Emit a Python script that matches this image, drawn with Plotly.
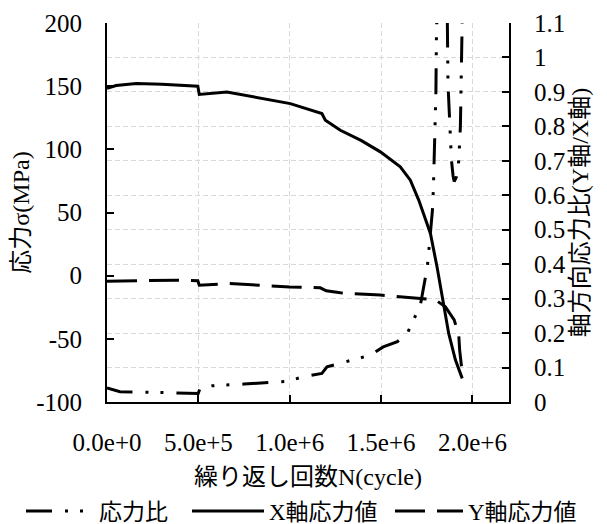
import plotly.graph_objects as go

# ---- data ----
cycles_x = [0, 0.05e6, 0.16e6, 0.30e6, 0.497e6, 0.505e6, 0.656e6, 0.838e6, 1.003e6,
            1.176e6, 1.195e6, 1.222e6, 1.277e6, 1.39e6, 1.496e6, 1.605e6, 1.66e6,
            1.706e6, 1.77e6, 1.806e6, 1.837e6, 1.870e6, 1.907e6, 1.944e6]
stress_x = [148.3, 150.5, 152.1, 151.5, 149.9, 143.4, 145.4, 140.7, 136.2,
            128.3, 123.0, 120.4, 115.1, 107.1, 98.0, 86.1, 75.6,
            59.8, 33.4, 7.0, -19.3, -45.7, -66.8, -81.3]

cycles_y = [0, 0.2e6, 0.38e6, 0.497e6, 0.505e6, 0.67e6, 1.0e6, 1.167e6, 1.20e6,
            1.277e6, 1.496e6, 1.715e6, 1.797e6, 1.852e6, 1.90e6, 1.925e6, 1.93e6, 1.944e6]
stress_y = [-4.4, -3.8, -3.6, -4.0, -7.5, -6.2, -8.9, -9.6, -12.0,
            -13.6, -15.4, -18.0, -19.1, -24.7, -35.0, -47.0, -58.9, -77.0]

cycles_r = [0, 0.071e6, 0.25e6, 0.40e6, 0.499e6, 0.51e6, 0.574e6, 0.75e6, 0.902e6,
            0.985e6, 1.074e6, 1.176e6, 1.204e6, 1.277e6, 1.441e6, 1.512e6, 1.589e6,
            1.644e6, 1.677e6, 1.715e6, 1.732e6, 1.753e6, 1.764e6, 1.781e6, 1.786e6,
            1.792e6, 1.797e6, 1.800e6, 1.803e6, 1.806e6, 1.83e6, 1.855e6, 1.861e6,
            1.866e6, 1.870e6, 1.879e6, 1.885e6, 1.894e6, 1.90e6, 1.912e6, 1.925e6,
            1.934e6, 1.939e6, 1.944e6, 1.95e6]
ratio = [0.041, 0.030, 0.028, 0.026, 0.025, 0.041, 0.047, 0.052, 0.056,
         0.060, 0.073, 0.083, 0.102, 0.112, 0.136, 0.160, 0.175,
         0.200, 0.238, 0.281, 0.331, 0.392, 0.455, 0.557, 0.615,
         0.722, 0.809, 0.90, 1.073, 1.2, 1.5, 1.5, 1.098,
         0.925, 0.878, 0.745, 0.702, 0.656, 0.64, 0.653, 0.70,
         0.80, 0.95, 1.1, 1.3]

x_tickvals = [0, 5e5, 1e6, 1.5e6, 2e6]
x_ticktext = ["0.0e+0", "5.0e+5", "1.0e+6", "1.5e+6", "2.0e+6"]
y_tickvals = [-100, -50, 0, 50, 100, 150, 200]
y_ticktext = ["-100", "-50", "0", "50", "100", "150", "200"]
r_tickvals = [0, 0.1, 0.2, 0.3, 0.4, 0.5, 0.6, 0.7, 0.8, 0.9, 1.0, 1.1]
r_ticktext = ["0", "0.1", "0.2", "0.3", "0.4", "0.5", "0.6", "0.7", "0.8", "0.9", "1", "1.1"]

names = ["応力比", "X軸応力値", "Y軸応力値"]

FONT = "Liberation Serif, Times New Roman, Noto Sans CJK JP, serif"
GRID = "#d9d9d9"

fig = go.Figure()
fig.add_trace(go.Scatter(x=cycles_r, y=ratio, name=names[0], mode="lines", yaxis="y2",
                         legend="legend",
                         line=dict(color="black", width=3, dash="26px,13px,3px,12px,3px,13px")))
fig.add_trace(go.Scatter(x=cycles_x, y=stress_x, name=names[1], mode="lines",
                         legend="legend2",
                         line=dict(color="black", width=3)))
fig.add_trace(go.Scatter(x=cycles_y, y=stress_y, name=names[2], mode="lines",
                         legend="legend3",
                         line=dict(color="black", width=3, dash="30px,12px")))

axis_common = dict(ticks="inside", ticklen=7, tickwidth=2, tickcolor="black",
                   showline=True, linecolor="black", linewidth=2, zeroline=False,
                   automargin=False,
                   tickfont=dict(family=FONT, size=25, color="black"))

legend_common = dict(orientation="h", xref="container", yref="container",
                     xanchor="left", y=0.040, yanchor="middle",
                     font=dict(family=FONT, size=23, color="black"),
                     bgcolor="rgba(0,0,0,0)")

fig.update_layout(
    width=607, height=524,
    margin=dict(l=99, r=106, t=15, b=130, autoexpand=False),
    paper_bgcolor="white", plot_bgcolor="white",
    font=dict(family=FONT, color="black"),
    xaxis=dict(range=[0, 2.2e6], tickvals=x_tickvals, ticktext=x_ticktext,
               showgrid=True, gridcolor=GRID, gridwidth=1, griddash="5px,3px",
               ticklabelstandoff=17,
               title=dict(text="繰り返し回数N(cycle)", font=dict(family=FONT, size=24), standoff=15),
               **axis_common),
    yaxis=dict(range=[-100, 200], tickvals=y_tickvals, ticktext=y_ticktext,
               showgrid=False, ticklabelstandoff=18,
               title=dict(text="応力σ(MPa)", font=dict(family=FONT, size=24), standoff=2),
               **axis_common),
    yaxis2=dict(range=[0, 1.1], tickvals=r_tickvals, ticktext=r_ticktext,
                overlaying="y", side="right", anchor="x",
                showgrid=True, gridcolor=GRID, gridwidth=1, griddash="5px,3px",
                ticklabelstandoff=18,
                title=dict(text="軸方向応力比(Y軸/X軸)", font=dict(family=FONT, size=24), standoff=6),
                **axis_common),
    legend=dict(x=13 / 607, itemwidth=68, **legend_common),
    legend2=dict(x=179 / 607, itemwidth=72, **legend_common),
    legend3=dict(x=382 / 607, itemwidth=68, **legend_common),
    showlegend=True,
)

fig.write_html("out.html")
